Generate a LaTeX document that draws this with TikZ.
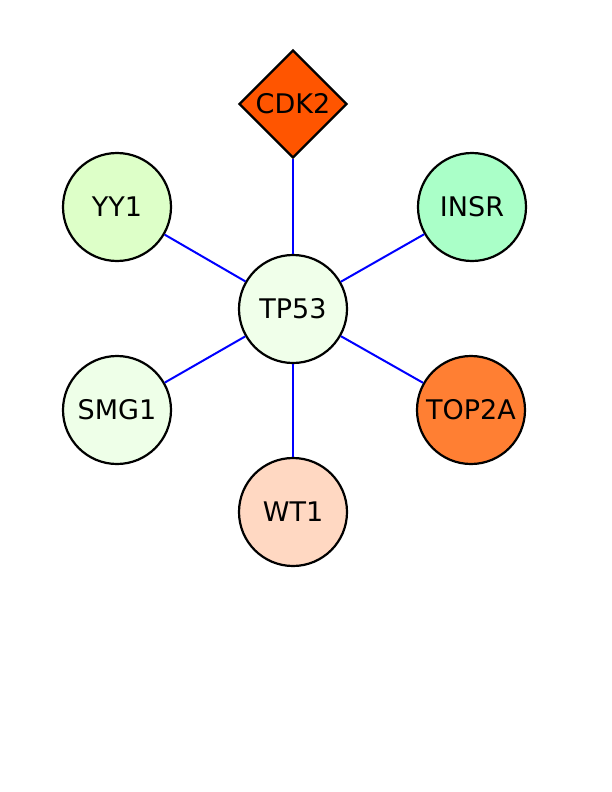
\documentclass[tikz,border=0pt]{standalone}
\usepackage{fontspec}
\setmainfont{DejaVu Sans}
\usetikzlibrary{shapes.geometric}
\definecolor{cdkcol}{HTML}{FF5500}
\definecolor{topcol}{HTML}{FF7F33}
\definecolor{tpcol}{HTML}{F0FFEA}
\definecolor{yycol}{HTML}{DDFFC8}
\definecolor{insrcol}{HTML}{AAFFC8}
\definecolor{smgcol}{HTML}{EEFFE8}
\definecolor{wtcol}{HTML}{FFD8C2}
\begin{document}
\begin{tikzpicture}[
    x=1pt, y=-1pt,
    gene/.style={
        circle,
        draw=black,
        line width=2.2pt,
        minimum size=108pt,
        inner sep=0pt,
        font=\fontsize{27}{30}\selectfont
    },
    kinase/.style={
        diamond,
        draw=black,
        line width=2.2pt,
        minimum size=108pt,
        inner sep=0pt,
        font=\fontsize{27}{30}\selectfont
    },
    link/.style={draw=blue, line width=2pt}
]
\useasboundingbox (0,0) rectangle (612,792);

\node[gene, fill=tpcol] (tp53) at (293,309) {TP53};
\node[kinase, fill=cdkcol] (cdk2) at (293,104) {CDK2};
\node[gene, fill=yycol] (yy1) at (117,207) {YY1};
\node[gene, fill=insrcol] (insr) at (472,207) {INSR};
\node[gene, fill=smgcol] (smg1) at (117,410) {SMG1};
\node[gene, fill=topcol] (top2a) at (471,410) {TOP2A};
\node[gene, fill=wtcol] (wt1) at (293,512) {WT1};

\draw[link] (tp53) -- (cdk2);
\draw[link] (tp53) -- (yy1);
\draw[link] (tp53) -- (insr);
\draw[link] (tp53) -- (smg1);
\draw[link] (tp53) -- (top2a);
\draw[link] (tp53) -- (wt1);

\end{tikzpicture}
\end{document}
